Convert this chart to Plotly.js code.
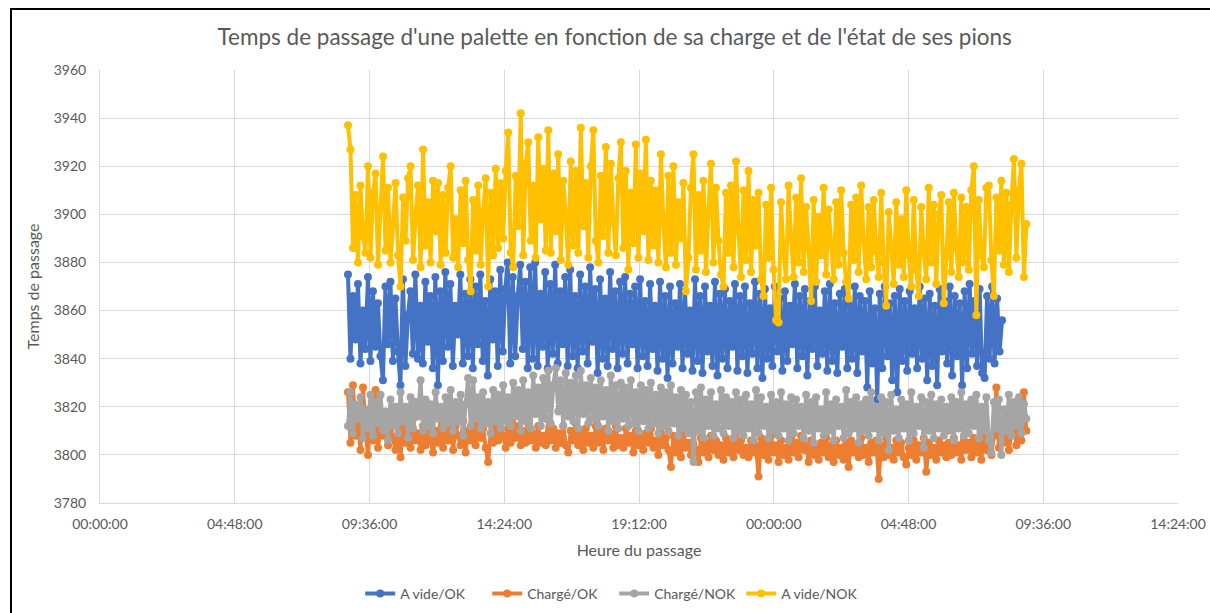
<!DOCTYPE html>
<html>
<head>
<meta charset="utf-8">
<script src="https://cdn.plot.ly/plotly-3.0.1.min.js"></script>
<style>
html,body{margin:0;padding:0;background:#fff;overflow:hidden;}
#chart{position:absolute;left:0;top:0;width:1210px;height:613px;}
#frame{position:absolute;left:10px;top:8px;width:1300px;height:700px;border-left:2px solid #000;border-top:2px solid #000;pointer-events:none;}
</style>
</head>
<body>
<div id="chart"></div>
<div id="frame"></div>
<script>
// ---- Data ----
const seriesNames = ["A vide/OK", "Chargé/OK", "Chargé/NOK", "A vide/NOK"];
const seriesColors = ["#4472C4", "#ED7D31", "#A5A5A5", "#FFC000"];

// sampling window of each series (first and last passage)
const startAvideOK = "2024-01-01 08:50:00";
const endAvideOK = "2024-01-02 08:08:00";
const startOthers = "2024-01-01 08:50:00";
const endOthers = "2024-01-02 09:00:00";

const avideOK = [
3875,3840,3866,3848,3871,3838,3860,3844,3874,3839,
3868,3845,3863,3841,3831,3870,3846,3872,3839,3865,
3843,3829,3873,3837,3858,3868,3842,3875,3840,3862,
3838,3872,3847,3866,3836,3874,3829,3868,3839,3876,
3845,3871,3837,3862,3850,3875,3838,3867,3841,3873,
3836,3870,3846,3875,3839,3864,3833,3873,3848,3868,
3837,3877,3843,3869,3880,3838,3874,3841,3866,3879,
3844,3872,3836,3878,3840,3880,3837,3867,3845,3876,
3836,3871,3842,3879,3838,3868,3846,3874,3837,3877,
3841,3866,3836,3875,3843,3870,3838,3878,3847,3869,
3834,3873,3840,3865,3837,3876,3844,3868,3836,3872,
3842,3874,3838,3867,3846,3870,3836,3873,3841,3864,
3837,3871,3844,3862,3835,3872,3840,3866,3832,3870,
3838,3863,3845,3871,3836,3868,3842,3860,3835,3873,
3839,3866,3834,3870,3843,3862,3837,3872,3833,3867,
3840,3869,3836,3864,3845,3871,3835,3866,3841,3870,
3834,3863,3842,3872,3836,3867,3832,3869,3840,3861,
3837,3870,3843,3865,3835,3868,3839,3862,3846,3871,
3836,3866,3841,3869,3833,3864,3844,3870,3837,3860,
3842,3868,3835,3871,3839,3863,3834,3867,3845,3869,
3836,3862,3840,3870,3834,3866,3843,3864,3828,3868,
3838,3861,3823,3867,3836,3870,3841,3863,3831,3866,
3826,3869,3839,3864,3835,3868,3842,3861,3836,3870,
3840,3865,3831,3867,3837,3862,3829,3869,3843,3864,
3838,3870,3833,3866,3841,3863,3829,3868,3836,3871,
3842,3864,3837,3869,3834,3832,3866,3840,3870,3838,
3865,3843,3856];

const chargeOK = [
3826,3805,3829,3808,3815,3802,3828,3810,3800,3814,
3806,3827,3803,3812,3808,3816,3804,3811,3807,3802,
3813,3799,3817,3805,3811,3803,3815,3806,3809,3802,
3812,3804,3814,3806,3801,3810,3805,3816,3803,3811,
3806,3813,3802,3812,3808,3804,3814,3801,3810,3806,
3813,3804,3815,3807,3811,3803,3797,3809,3805,3812,
3806,3814,3808,3803,3811,3805,3816,3807,3812,3804,
3810,3805,3813,3806,3809,3803,3812,3805,3808,3804,
3815,3806,3811,3803,3809,3805,3812,3804,3801,3810,
3806,3813,3804,3809,3802,3811,3805,3808,3803,3812,
3805,3810,3802,3811,3806,3809,3803,3812,3804,3807,
3803,3811,3805,3808,3801,3810,3804,3807,3802,3809,
3805,3811,3803,3806,3800,3809,3804,3807,3802,3795,
3808,3801,3806,3799,3810,3803,3805,3800,3809,3802,
3797,3807,3801,3805,3799,3808,3802,3806,3800,3804,
3798,3807,3801,3805,3799,3809,3802,3806,3800,3803,
3799,3806,3801,3804,3791,3807,3800,3805,3798,3808,
3801,3804,3797,3806,3800,3803,3798,3807,3801,3805,
3799,3808,3802,3804,3797,3806,3800,3803,3798,3805,
3801,3807,3799,3804,3797,3806,3800,3803,3798,3805,
3795,3806,3801,3804,3799,3807,3800,3803,3797,3805,
3801,3806,3790,3804,3799,3807,3800,3803,3798,3806,
3801,3805,3799,3796,3803,3800,3806,3798,3804,3801,
3807,3793,3805,3800,3803,3798,3806,3801,3804,3799,
3805,3800,3807,3801,3804,3798,3806,3802,3805,3799,
3807,3801,3804,3798,3809,3802,3806,3800,3808,3828,
3803,3810,3805,3812,3802,3809,3815,3804,3811,3806,
3826,3810];

const chargeNOK = [
3812,3826,3809,3821,3815,3824,3807,3819,3811,3825,
3808,3822,3813,3825,3810,3818,3806,3823,3812,3820,
3809,3826,3814,3820,3807,3824,3811,3822,3816,3831,
3810,3823,3812,3821,3809,3826,3815,3820,3811,3824,
3813,3827,3810,3822,3814,3825,3808,3821,3832,3812,
3831,3815,3824,3811,3826,3813,3822,3809,3827,3814,
3825,3811,3829,3814,3824,3812,3830,3816,3827,3810,
3831,3814,3826,3811,3833,3817,3828,3812,3832,3815,
3835,3813,3829,3836,3818,3831,3812,3834,3816,3830,
3814,3833,3811,3835,3817,3829,3813,3832,3815,3828,
3812,3831,3816,3827,3810,3833,3814,3829,3811,3830,
3815,3828,3812,3831,3813,3826,3810,3829,3814,3827,
3811,3830,3813,3825,3809,3828,3812,3826,3810,3829,
3813,3824,3808,3827,3811,3825,3809,3822,3797,3826,
3810,3828,3807,3823,3812,3826,3808,3821,3811,3827,
3809,3824,3812,3822,3807,3826,3810,3823,3808,3825,
3811,3821,3806,3827,3809,3824,3812,3820,3807,3825,
3810,3822,3808,3826,3811,3821,3806,3824,3809,3823,
3812,3820,3807,3825,3810,3822,3805,3824,3811,3819,
3808,3826,3810,3821,3806,3823,3812,3820,3807,3827,
3809,3822,3811,3824,3805,3821,3810,3823,3808,3826,
3811,3820,3806,3824,3809,3822,3802,3825,3810,3819,
3807,3823,3811,3821,3806,3826,3809,3820,3812,3824,
3803,3822,3810,3825,3807,3821,3811,3823,3808,3820,
3810,3824,3806,3822,3811,3826,3808,3821,3809,3823,
3812,3825,3807,3820,3810,3824,3806,3801,3822,3811,
3823,3800,3819,3810,3825,3808,3822,3812,3824,3809,
3821,3815];

const avideNOK = [
3937,3927,3886,3908,3880,3912,3891,3884,3920,3882,
3909,3917,3879,3903,3924,3885,3911,3880,3896,3913,
3883,3870,3907,3889,3915,3920,3881,3900,3912,3878,
3927,3887,3905,3880,3914,3893,3913,3879,3908,3884,
3911,3920,3882,3898,3878,3910,3888,3914,3881,3868,
3906,3885,3912,3879,3901,3915,3870,3909,3883,3919,
3886,3913,3890,3918,3934,3884,3878,3916,3895,3942,
3883,3921,3930,3889,3912,3882,3932,3898,3919,3885,
3935,3884,3917,3893,3925,3881,3914,3900,3879,3922,
3887,3918,3884,3936,3895,3913,3882,3920,3935,3889,
3880,3916,3891,3928,3884,3921,3897,3883,3915,3930,
3886,3918,3877,3909,3888,3929,3882,3917,3893,3931,
3881,3914,3887,3910,3880,3925,3896,3878,3916,3884,
3920,3879,3905,3890,3913,3868,3882,3911,3925,3877,
3908,3885,3914,3876,3902,3921,3880,3911,3889,3875,
3870,3909,3884,3912,3878,3922,3893,3874,3910,3881,
3918,3876,3906,3887,3909,3873,3866,3904,3882,3911,
3877,3856,3855,3905,3884,3873,3912,3890,3874,3907,
3880,3915,3876,3903,3886,3864,3906,3872,3899,3883,
3911,3875,3902,3888,3873,3905,3879,3910,3884,3872,
3865,3904,3881,3907,3876,3912,3889,3873,3903,3878,
3906,3885,3874,3909,3880,3862,3901,3887,3871,3905,
3879,3898,3874,3910,3883,3870,3906,3877,3866,3903,
3884,3873,3911,3880,3904,3871,3900,3908,3863,3882,
3905,3876,3909,3886,3874,3907,3880,3903,3877,3910,
3920,3858,3906,3883,3878,3911,3912,3881,3866,3907,
3885,3914,3879,3909,3876,3904,3923,3882,3910,3921,
3874,3896];

const yTickVals = [3780,3800,3820,3840,3860,3880,3900,3920,3940,3960];
const xRangeStart = "2024-01-01 00:00:00";
const xRangeEnd = "2024-01-02 14:24:00";
const xTickStepMs = 4.8 * 3600 * 1000; // 04:48:00

// ---- Build traces ----
function stepMs(start, end, n) {
  return (new Date(end.replace(' ', 'T')).getTime() - new Date(start.replace(' ', 'T')).getTime()) / (n - 1);
}
const ySets = [avideOK, chargeOK, chargeNOK, avideNOK];
const starts = [startAvideOK, startOthers, startOthers, startOthers];
const ends = [endAvideOK, endOthers, endOthers, endOthers];

const traces = ySets.map((ys, k) => ({
  type: 'scatter',
  mode: 'lines+markers',
  name: seriesNames[k],
  y: ys,
  x0: starts[k],
  dx: stepMs(starts[k], ends[k], ys.length),
  line: {color: seriesColors[k], width: 4, simplify: false},
  marker: {color: seriesColors[k], size: 8, symbol: 'circle'}
}));

const font = "Lato, 'Open Sans', sans-serif";
const layout = {
  width: 1210, height: 613,
  paper_bgcolor: '#ffffff', plot_bgcolor: '#ffffff',
  margin: {l: 100, r: 32, t: 70, b: 110, autoexpand: false},
  title: {text: "Temps de passage d'une palette en fonction de sa charge et de l'état de ses pions",
          font: {family: font, size: 22.5, color: '#595959'}, x: 0.508, xanchor: 'center', y: 0.94, yanchor: 'middle'},
  showlegend: true,
  legend: {orientation: 'h', x: 0.477, xanchor: 'center', y: -0.21, yanchor: 'middle',
           font: {family: font, size: 14, color: '#595959'}, itemwidth: 30, traceorder: 'normal',
           entrywidth: 82, entrywidthmode: 'pixels'},
  xaxis: {
    type: 'date',
    range: [xRangeStart, xRangeEnd],
    tick0: xRangeStart, dtick: xTickStepMs,
    tickformat: '%H:%M:%S',
    showgrid: true, gridcolor: '#d9d9d9', gridwidth: 1,
    showline: true, linecolor: '#d9d9d9', linewidth: 1,
    zeroline: false, ticks: '', ticklabelstandoff: 8,
    tickfont: {family: font, size: 14, color: '#595959'},
    title: {text: 'Heure du passage', font: {family: font, size: 16, color: '#595959'}, standoff: 14}
  },
  yaxis: {
    range: [3780, 3960],
    tickvals: yTickVals,
    showgrid: true, gridcolor: '#d9d9d9', gridwidth: 1,
    showline: true, linecolor: '#d9d9d9', linewidth: 1,
    zeroline: false, ticks: '', ticklabelstandoff: 10,
    tickfont: {family: font, size: 14, color: '#595959'},
    title: {text: 'Temps de passage', font: {family: font, size: 16, color: '#595959'}, standoff: 10}
  }
};

Plotly.newPlot('chart', traces, layout, {displayModeBar: false, staticPlot: true});
</script>
</body>
</html>
